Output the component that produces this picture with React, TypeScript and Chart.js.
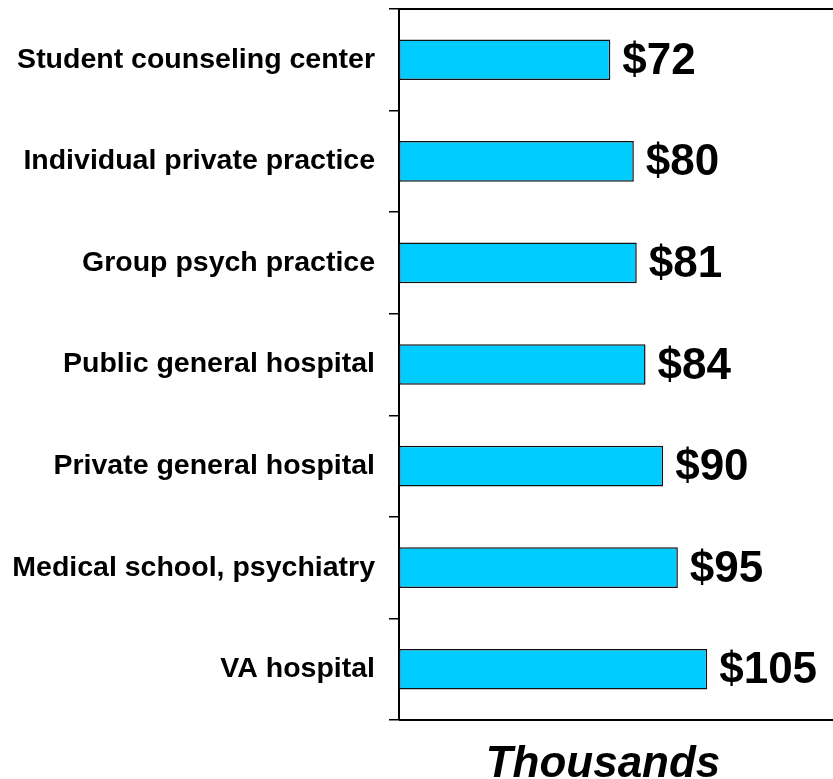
import React, { useEffect, useRef } from "react";
import { Chart, registerables } from "chart.js";

Chart.register(...registerables);

const categories = [
  "Student counseling center",
  "Individual private practice",
  "Group psych practice",
  "Public general hospital",
  "Private general hospital",
  "Medical school, psychiatry",
  "VA hospital",
];
const salaries = [72, 80, 81, 84, 90, 95, 105];
const valuePrefix = "$";
const axisTitle = "Thousands";
const xMax = 139;

const FONT = "'Liberation Sans', Arial, Helvetica, sans-serif";

const decorPlugin = {
  id: "decor",
  afterDraw(chart: any) {
    const { ctx, chartArea } = chart;
    ctx.save();
    // top and bottom frame lines
    ctx.strokeStyle = "#000";
    ctx.lineWidth = 2;
    ctx.beginPath();
    ctx.moveTo(chartArea.left, chartArea.top);
    ctx.lineTo(chart.width, chartArea.top);
    ctx.moveTo(chartArea.left, chartArea.bottom);
    ctx.lineTo(chart.width, chartArea.bottom);
    ctx.stroke();

    // value labels
    const meta = chart.getDatasetMeta(0);
    ctx.fillStyle = "#000";
    ctx.font = `bold 44px ${FONT}`;
    ctx.textAlign = "left";
    ctx.textBaseline = "middle";
    meta.data.forEach((bar: any, i: number) => {
      ctx.fillText(valuePrefix + salaries[i], bar.x + 12, bar.y + 2);
    });

    // axis title
    ctx.font = `italic bold 44px ${FONT}`;
    ctx.textAlign = "center";
    ctx.textBaseline = "alphabetic";
    ctx.fillText(axisTitle, (chartArea.left + chartArea.right) / 2, 777);
    ctx.restore();
  },
};

export default function App() {
  const ref = useRef<HTMLCanvasElement | null>(null);
  useEffect(() => {
    if (!ref.current) return;
    const chart = new Chart(ref.current, {
      type: "bar",
      data: {
        labels: categories,
        datasets: [
          {
            data: salaries,
            backgroundColor: "#00CCFF",
            borderColor: "#111",
            borderWidth: 1.5,
            borderSkipped: false,
            barPercentage: 0.4,
            categoryPercentage: 1,
          },
        ],
      },
      options: {
        indexAxis: "y",
        animation: false,
        responsive: false,
        maintainAspectRatio: false,
        layout: { padding: { top: 9, right: 26, left: 0, bottom: 0 } },
        plugins: {
          legend: { display: false },
          tooltip: { enabled: false },
          title: { display: false },
        },
        scales: {
          x: {
            min: 0,
            max: xMax,
            ticks: { display: false },
            grid: { display: false },
            border: { display: false },
            afterFit(scale: any) {
              scale.height = 59;
              scale.paddingLeft = 0;
              scale.paddingRight = 0;
            },
          },
          y: {
            grid: {
              offset: true,
              drawOnChartArea: false,
              drawTicks: true,
              tickLength: 10,
              color: "#000",
              lineWidth: 1.5,
            },
            border: { display: true, color: "#000", width: 2 },
            ticks: {
              color: "#000",
              padding: 14,
              font: { family: FONT, size: 28.5, weight: "bold" },
            },
            afterFit(scale: any) {
              scale.width = 399;
              scale.paddingTop = 0;
              scale.paddingBottom = 0;
            },
          },
        },
      },
      plugins: [decorPlugin],
    } as any);
    return () => chart.destroy();
  }, []);

  return (
    <div style={{ position: "absolute", left: 0, top: 0, width: 833, height: 779, background: "#fff" }}>
      <canvas ref={ref} width={833} height={779} style={{ width: 833, height: 779, display: "block" }} />
    </div>
  );
}
